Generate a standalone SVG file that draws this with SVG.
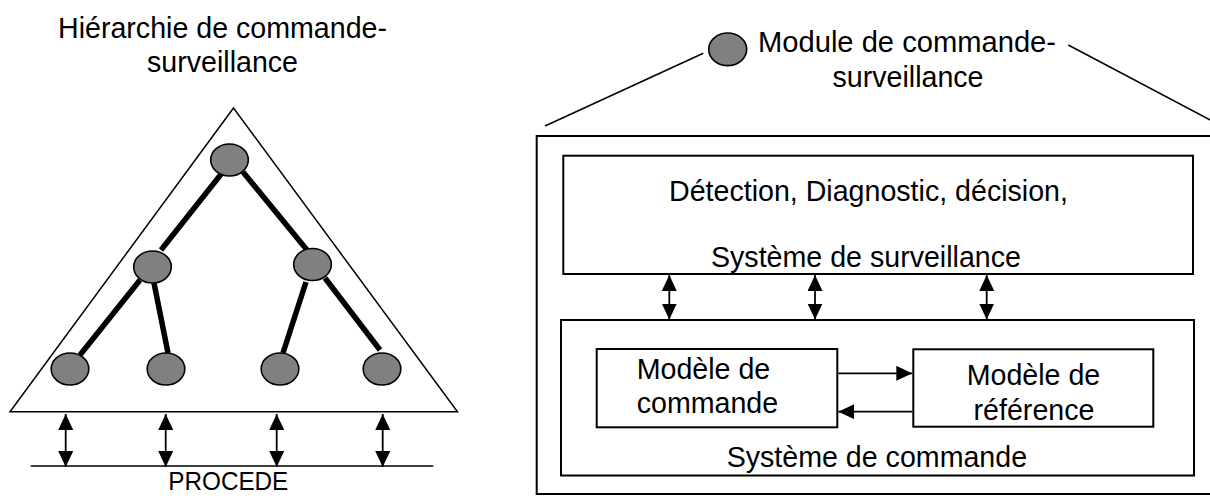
<svg xmlns="http://www.w3.org/2000/svg" width="1210" height="496" viewBox="0 0 1210 496">
  <style>
    text { font-family: "Liberation Sans", Arial, sans-serif; font-size: 28.6px; fill: #000; }
    .mid { text-anchor: middle; }
    .box { fill: none; stroke: #000; stroke-width: 2; }
    .thin { fill: none; stroke: #000; stroke-width: 1.5; }
    .edge { stroke: #000; stroke-width: 5.5; }
    .node { fill: #808080; stroke: #000; stroke-width: 1.6; }
    .arr { stroke: #000; stroke-width: 1.8; fill: none; }
    .dbl { marker-start: url(#ah); marker-end: url(#ah); }
    .one { marker-end: url(#ah); }
  </style>
  <defs>
    <marker id="ah" viewBox="0 0 16 15" refX="16" refY="7.5" markerWidth="16" markerHeight="15" markerUnits="userSpaceOnUse" orient="auto-start-reverse">
      <path d="M0,0 L16,7.5 L0,15 z" fill="#000"/>
    </marker>
  </defs>

  <!-- Left: hierarchy -->
  <g id="title-left">
    <text class="mid" x="222.5" y="38">Hiérarchie de commande-</text>
    <text class="mid" x="222.5" y="71.7">surveillance</text>
  </g>
  <g id="triangle">
    <polygon class="thin" points="233.5,108 10,411.7 457.5,411.7"/>
  </g>
  <g id="tree-edges">
    <line class="edge" x1="222" y1="173" x2="161" y2="250"/>
    <line class="edge" x1="243" y1="172" x2="307" y2="250"/>
    <line class="edge" x1="140" y1="280" x2="80" y2="355"/>
    <line class="edge" x1="154" y1="283" x2="168" y2="353"/>
    <line class="edge" x1="306" y1="282" x2="283" y2="353"/>
    <line class="edge" x1="325" y1="278" x2="380" y2="350"/>
  </g>
  <g id="node-top"><ellipse class="node" cx="229.5" cy="160" rx="18.8" ry="16"/></g>
  <g id="node-ml"><ellipse class="node" cx="152.5" cy="267" rx="18.8" ry="16"/></g>
  <g id="node-mr"><ellipse class="node" cx="312.5" cy="264.5" rx="18.8" ry="16"/></g>
  <g id="node-b1"><ellipse class="node" cx="70" cy="369" rx="18.8" ry="16"/></g>
  <g id="node-b2"><ellipse class="node" cx="166" cy="369" rx="18.8" ry="16"/></g>
  <g id="node-b3"><ellipse class="node" cx="280" cy="369" rx="18.8" ry="16"/></g>
  <g id="node-b4"><ellipse class="node" cx="382" cy="369" rx="18.8" ry="16"/></g>
  <g id="procede">
    <line class="thin" x1="30.7" y1="466" x2="433.3" y2="466"/>
    <text class="mid" x="228.3" y="490" style="font-size:26px" textLength="120" lengthAdjust="spacingAndGlyphs">PROCEDE</text>
  </g>
  <g id="connectors-left">
    <line class="arr dbl" x1="65.7" y1="414" x2="65.7" y2="467"/>
    <line class="arr dbl" x1="165.7" y1="414" x2="165.7" y2="467"/>
    <line class="arr dbl" x1="276.7" y1="414" x2="276.7" y2="467"/>
    <line class="arr dbl" x1="382.7" y1="414" x2="382.7" y2="467"/>
  </g>

  <!-- Right: module -->
  <g id="module-header">
    <ellipse class="node" cx="727.7" cy="49.3" rx="19" ry="16.3"/>
    <text x="758" y="51.7" textLength="298" lengthAdjust="spacingAndGlyphs">Module de commande-</text>
    <text class="mid" x="908" y="86.7">surveillance</text>
    <line class="thin" x1="703.3" y1="53.3" x2="545" y2="126"/>
    <line class="thin" x1="1068.3" y1="45" x2="1212" y2="121"/>
  </g>
  <g id="outer-module">
    <rect class="box" x="536.7" y="136" width="690" height="358"/>
  </g>
  <g id="surveillance">
    <rect class="box" x="563.3" y="155.7" width="629.7" height="118.3"/>
    <text x="669" y="201">Détection, Diagnostic, décision,</text>
    <text x="711" y="266.7">Système de surveillance</text>
  </g>
  <g id="commande">
    <rect class="box" x="561" y="320" width="633" height="155.5"/>
    <text x="726.7" y="466.7">Système de commande</text>
  </g>
  <g id="modele-commande">
    <rect class="box" x="596.7" y="349" width="240.6" height="78.3"/>
    <text x="636.7" y="379.3">Modèle de</text>
    <text x="636.7" y="413.3">commande</text>
  </g>
  <g id="modele-reference">
    <rect class="box" x="913.3" y="349.3" width="240" height="77.4"/>
    <text class="mid" x="1033.5" y="385">Modèle de</text>
    <text class="mid" x="1034" y="420">référence</text>
  </g>
  <g id="connectors-right">
    <line class="arr dbl" x1="669.3" y1="275" x2="669.3" y2="319.5"/>
    <line class="arr dbl" x1="815" y1="275" x2="815" y2="319.5"/>
    <line class="arr dbl" x1="986.7" y1="275" x2="986.7" y2="319.5"/>
    <line class="arr one" x1="838.3" y1="373.3" x2="912.3" y2="373.3"/>
    <line class="arr one" x1="912.3" y1="411.7" x2="838.3" y2="411.7"/>
  </g>
</svg>
